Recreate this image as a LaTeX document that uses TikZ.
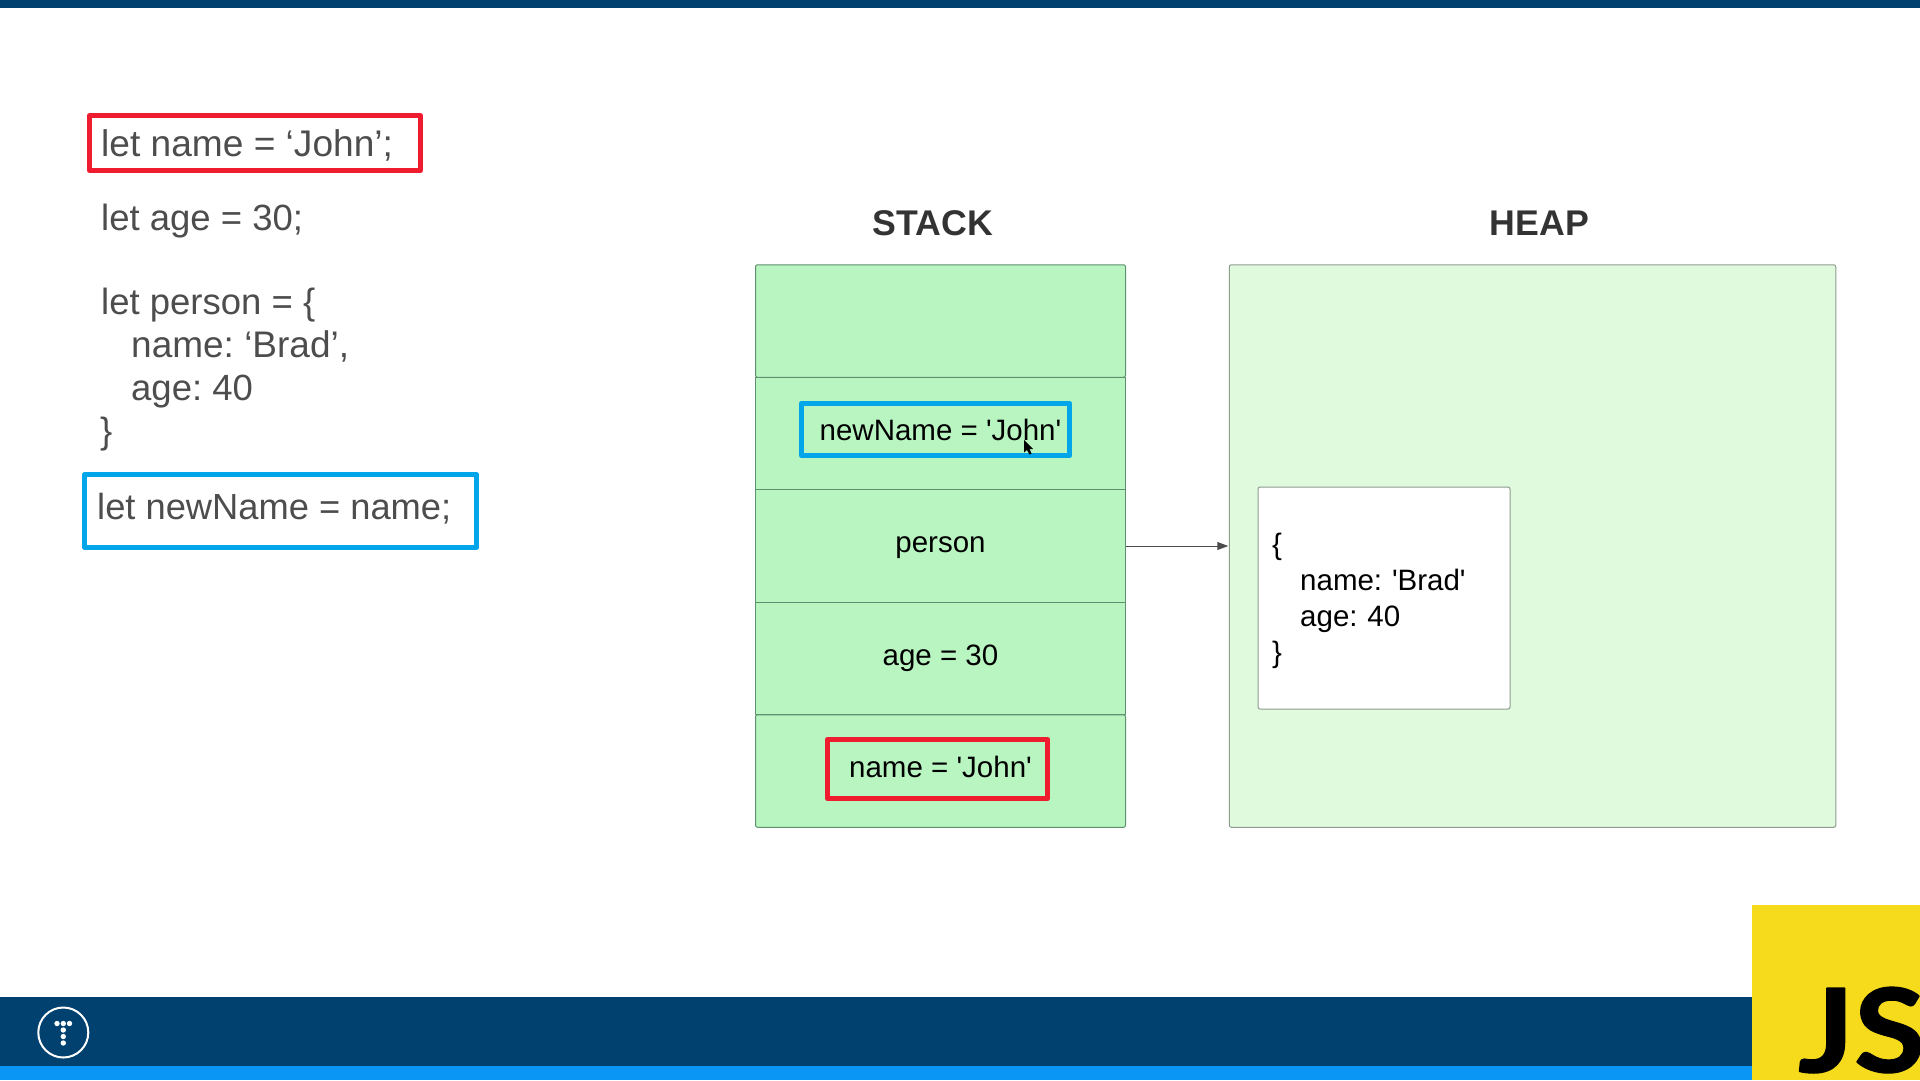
\documentclass[tikz,border=0pt]{standalone}
\usepackage{fontspec}
\setmainfont{Liberation Sans}[Ligatures=TeXOff]
\newfontfamily\logofont{Lato}[Ligatures=TeXOff,BoldFeatures={FakeBold=1.4,FakeStretch=1.12}]
\usetikzlibrary{positioning,arrows.meta}
\definecolor{barblue}{HTML}{004170}
\definecolor{barlight}{HTML}{0A96F5}
\definecolor{jsyellow}{HTML}{F6DA1C}
\definecolor{stackgreen}{HTML}{B9F5C1}
\definecolor{heapgreen}{HTML}{E0FADD}
\definecolor{stackline}{HTML}{5E8F6E}
\definecolor{heapline}{HTML}{8E9C90}
\definecolor{codegray}{HTML}{4D4D4D}
\definecolor{markred}{HTML}{EE1C2E}
\definecolor{markblue}{HTML}{00A5EA}
\newcommand{\fs}[2]{\fontsize{#1}{#2}\selectfont\frenchspacing}
\tikzset{
	codetext/.style={anchor=base west,inner sep=0pt,text=codegray,font=\fs{36.5}{43}},
	title/.style={anchor=base,inner sep=0pt,text=black!80,font=\bfseries\fs{35.7}{40}},
	stackrow/.style={draw=stackline,fill=stackgreen,line width=1pt,outer sep=0pt,inner sep=0pt,minimum width=370pt,minimum height=112.5pt},
	rowtext/.style={inner sep=0pt,font=\fs{29.5}{36}},
	frame/.style={draw=#1,line width=4.7pt,inner sep=0pt}
}
\begin{document}
\begin{tikzpicture}[x=1pt,y=-1pt,line join=round,>={Stealth[length=11pt,width=8pt,inset=0pt]}]
	\clip (0,0) rectangle (1920,1080);
	\fill[barblue] (0,0) rectangle (1920,8);
	\fill[barblue] (0,997) rectangle (1920,1066);
	\fill[barlight] (0,1066) rectangle (1920,1080);
	\node[draw=white,line width=2pt,circle,minimum size=50pt,inner sep=0pt] (logo) at (63.3,1032.5) {};
	\foreach \x/\y in {57/1023.5,63.3/1023.5,69.5/1023.5,63.3/1030,63.3/1036.5,63.3/1043} \fill[white] (\x,\y) circle (2.7pt);
	\fill[jsyellow] (1752,905) rectangle (1920,1080);
	\node[anchor=base west,inner sep=0pt,font=\logofont\bfseries\fs{116}{120}] (js) at (1798,1072) {JS};
	% code on the left
	\node[frame=markred,minimum width=331pt,minimum height=55pt] (namemark) at (255,143) {};
	\node[codetext,font=\fs{37.1}{43}] (lname) at (101,156) {let name = ‘John’;};
	\node[codetext] (lage) at (101,230) {let age = 30;};
	\node[codetext] (lperson) at (101,314) {let person = \{};
	\node[codetext,font=\fs{37}{43}] (lbrad) at (131,357) {name: ‘Brad’,};
	\node[codetext] (lforty) at (131,400) {age: 40};
	\node[codetext] (lclose) at (100,443) {\}};
	\node[frame=markblue,minimum width=392pt,minimum height=73pt] (newmark) at (280.5,511) {};
	\node[codetext,font=\fs{36.3}{43}] (lnew) at (97,519) {let newName = name;};
	% stack and heap
	\node[title] (stacktitle) at (933,235) {STACK};
	\node[title] (heaptitle) at (1539.5,235) {HEAP};
	\node[stackrow,rounded corners=2pt] (rtop) at (940.5,321) {};
	\node[stackrow,below=0pt of rtop] (rnew) {};
	\node[stackrow,below=0pt of rnew] (rperson) {};
	\node[stackrow,below=0pt of rperson] (rage) {};
	\node[stackrow,rounded corners=2pt,below=0pt of rage] (rname) {};
	\node[rowtext,yshift=4pt] (tnew) at (rnew) {newName = 'John'};
	\node[rowtext,yshift=-1.5pt] (tperson) at (rperson) {person};
	\node[rowtext] (tage) at (rage) {age = 30};
	\node[rowtext,yshift=4pt] (tname) at (rname) {name = 'John'};
	\node[draw=heapline,fill=heapgreen,line width=1pt,rounded corners=2pt,outer sep=0pt,minimum width=606.5pt,minimum height=562.5pt] (heap) at (1532.5,546) {};
	\node[draw=heapline,fill=white,line width=1pt,rounded corners=2pt,outer sep=0pt,inner sep=14pt,minimum width=252pt,minimum height=222pt] (obj) at (1384,598) {};
	\node[inner sep=0pt,anchor=west,text width=224pt,align=left,font=\fs{29.5}{36}] (objtext) at (1272,601) {\{\\\hspace{28pt}name: 'Brad'\\\hspace{28pt}age: 40\\\}};
	\node[frame=markblue,minimum width=268.5pt,minimum height=52.5pt] (newbox) at (935.5,429.5) {};
	\node[frame=markred,minimum width=220.5pt,minimum height=59.5pt] (namebox) at (937.5,769) {};
	\draw[->,line width=1pt,black!70,shorten >=1pt] (rperson.east) -- (heap.west);
	\fill (1024,440) -- (1024,452.5) -- (1027,450) -- (1029.5,454.5) -- (1031.5,453.5) -- (1029.5,449) -- (1033,449) -- cycle;
\end{tikzpicture}
\end{document}
